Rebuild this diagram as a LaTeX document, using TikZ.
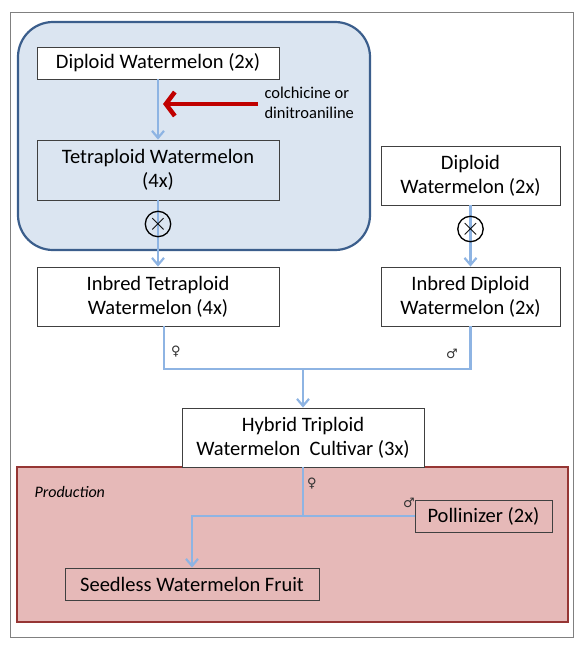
\documentclass[tikz,border=0pt]{standalone}
\usepackage{fontspec}
\setmainfont{Carlito}
\newfontfamily\symfont{DejaVu Sans}
\usetikzlibrary{arrows.meta}
\definecolor{flowblue}{RGB}{142,180,227}
\definecolor{zonefill}{RGB}{219,229,241}
\definecolor{zoneline}{RGB}{59,94,140}
\definecolor{prodfill}{RGB}{230,185,184}
\definecolor{prodline}{RGB}{150,54,52}
\definecolor{chemred}{RGB}{192,0,0}
\begin{document}
\begin{tikzpicture}[x=1pt,y=-1pt,
  wbox/.style={draw=black!75,line width=0.9pt,fill=white,align=center,inner sep=0pt,
    font=\fontsize{20.5}{24}\selectfont},
  link/.style={draw=flowblue,line width=2.2pt},
  flow/.style={link,-{Straight Barb[length=7pt,width=12pt]}},
  sex/.style={font=\symfont\fontsize{13}{13}\selectfont,text=black!80},
  selfx/.style={circle,draw=black,line width=1.3pt,minimum size=25pt,inner sep=0pt}]
\useasboundingbox (0,0) rectangle (584,648);
% frame and zones
\draw[black!50,line width=1pt] (10,12) rectangle (573,637);
\draw[draw=zoneline,fill=zonefill,line width=2.2pt,rounded corners=35pt] (18,22) rectangle (370,250);
\draw[draw=prodline,fill=prodfill,line width=2.2pt] (17,467) rectangle (568,622);
\node[anchor=west,font=\itshape\fontsize{16}{16}\selectfont] (prod) at (31,492) {Production};
% boxes
\node[wbox,minimum width=242pt,minimum height=32pt] (dip) at (158,63) {Diploid Watermelon (2x)};
\node[wbox,fill=zonefill,minimum width=242pt,minimum height=60pt] (tet) at (158,170) {Tetraploid Watermelon\\(4x)};
\node[wbox,minimum width=242pt,minimum height=59pt] (itet) at (158,296.5) {Inbred Tetraploid\\Watermelon (4x)};
\node[wbox,minimum width=179pt,minimum height=59pt] (dip2) at (470.5,175.5) {Diploid\\Watermelon (2x)};
\node[wbox,minimum width=179pt,minimum height=59pt] (idip) at (470.5,296.5) {Inbred Diploid\\Watermelon (2x)};
\node[wbox,minimum width=242pt,minimum height=59pt] (hyb) at (303,437.5) {Hybrid Triploid\\Watermelon~ Cultivar (3x)};
\node[wbox,fill=prodfill,minimum width=137pt,minimum height=32pt] (poll) at (483.5,516) {Pollinizer (2x)};
\node[wbox,fill=prodfill,minimum width=254pt,minimum height=32pt] (seed) at (192,584) {Seedless Watermelon Fruit};
% chemical treatment
\node[anchor=west,align=left,font=\fontsize{16.5}{20}\selectfont] (chem) at (261,103) {colchicine or\\dinitroaniline};
\coordinate (hit) at (163,104);
\draw[flow] (dip.south) -- (tet.north);
\draw[chemred,line width=4.5pt,-{Straight Barb[length=9pt,width=24pt]}] ([xshift=-3pt]chem.west |- hit) -- (hit);
% selfing
\draw[flow] (tet.south) -- (itet.north);
\draw[flow] (dip2.south) -- (idip.north);
\node[selfx] (x1) at (158,224) {\fontsize{30}{30}\selectfont$\times$};
\node[selfx] (x2) at (470.5,229) {\fontsize{30}{30}\selectfont$\times$};
% cross
\coordinate (mid) at (303,369);
\draw[link] ([xshift=6pt]itet.south) |- (mid) -| (idip.south);
\draw[flow] (mid) -- (hyb.north);
\node[sex] (f1) at (176,352) {♀};
\node[sex] (m1) at (452,354) {♂};
% production
\draw[link] (hyb.south) -- (hyb.south |- poll.west);
\draw[flow] (poll.west) -| (seed.north);
\node[sex] (f2) at (312,484) {♀};
\node[sex] (m2) at (409,503) {♂};
\end{tikzpicture}
\end{document}
